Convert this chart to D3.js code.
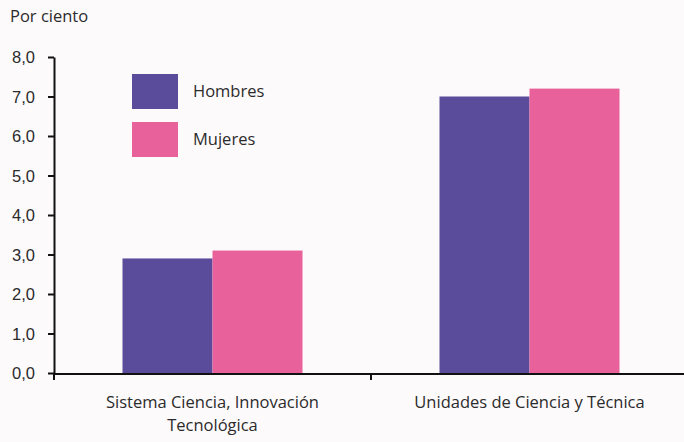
<!DOCTYPE html>
<html>
<head>
<meta charset="utf-8">
<script src="https://cdn.jsdelivr.net/npm/d3@7"></script>
<style>
  body { margin: 0; background: #fdfafb; }
  svg { font-family: "Open Sans", "Noto Sans", sans-serif; }
  .axis text { font-size: 16.5px; fill: #2b2b2b; }
  .axis path, .axis line { stroke: #111; stroke-width: 2px; }
</style>
</head>
<body>
<svg id="chart" width="684" height="442"></svg>
<script>
var categories = [["Sistema Ciencia, Innovación", "Tecnológica"], ["Unidades de Ciencia y Técnica"]];
var seriesNames = ["Hombres", "Mujeres"];
var hombres = [2.9, 7.0];
var mujeres = [3.1, 7.2];
var yTicks = [0, 1, 2, 3, 4, 5, 6, 7, 8];
var colors = ["#5b4b9b", "#e8619a"];

var svg = d3.select("#chart");
var x0 = 54, y0 = 373;

var x = d3.scaleBand().domain([0, 1]).range([x0, 688]).padding(0);
var y = d3.scaleLinear().domain([0, 8]).range([y0, 57]);
var fmt = function(d) { return d3.format(".1f")(d).replace(".", ","); };

// y axis
var yAxis = svg.append("g")
    .attr("class", "axis y")
    .attr("transform", "translate(" + x0 + ",0)")
    .call(d3.axisLeft(y).tickValues(yTicks).tickFormat(fmt).tickSize(6).tickSizeOuter(0));
yAxis.selectAll("text").attr("x", -19).attr("dy", "0.35em");

svg.append("text")
    .attr("x", 10).attr("y", 22)
    .style("font-size", "16.5px").style("fill", "#2b2b2b")
    .text("Por ciento");

// bars
var data = [hombres, mujeres];
var bw = 90;
data.forEach(function(vals, s) {
  svg.selectAll(".bar" + s)
    .data(vals)
    .enter().append("rect")
      .attr("class", "bar" + s)
      .attr("x", function(d, i) { return x(i) + x.bandwidth() / 2 - bw + s * bw; })
      .attr("y", function(d) { return y(d); })
      .attr("width", bw)
      .attr("height", function(d) { return y0 - y(d); })
      .attr("fill", colors[s]);
});

// x axis
svg.append("line")
    .attr("x1", x0 - 1).attr("x2", 684)
    .attr("y1", y0 + 1).attr("y2", y0 + 1)
    .attr("stroke", "#111").attr("stroke-width", 2);
[x0, x(1)].forEach(function(t) {
  svg.append("line")
    .attr("x1", t).attr("x2", t)
    .attr("y1", y0 + 1).attr("y2", y0 + 7)
    .attr("stroke", "#111").attr("stroke-width", 2);
});

categories.forEach(function(lines, i) {
  var t = svg.append("text")
      .attr("x", x(i) + x.bandwidth() / 2)
      .attr("y", 408)
      .attr("text-anchor", "middle")
      .style("font-size", "16.5px").style("fill", "#2b2b2b");
  lines.forEach(function(l, j) {
    t.append("tspan").attr("x", x(i) + x.bandwidth() / 2).attr("dy", j ? 23 : 0).text(l);
  });
});

// legend
var legend = svg.append("g").attr("transform", "translate(132,74)");
seriesNames.forEach(function(n, i) {
  legend.append("rect")
    .attr("x", 0).attr("y", i * 48)
    .attr("width", 46).attr("height", 35)
    .attr("fill", colors[i]);
  legend.append("text")
    .attr("x", 61).attr("y", i * 48 + 23)
    .style("font-size", "16.5px").style("fill", "#2b2b2b")
    .text(n);
});
</script>
</body>
</html>
